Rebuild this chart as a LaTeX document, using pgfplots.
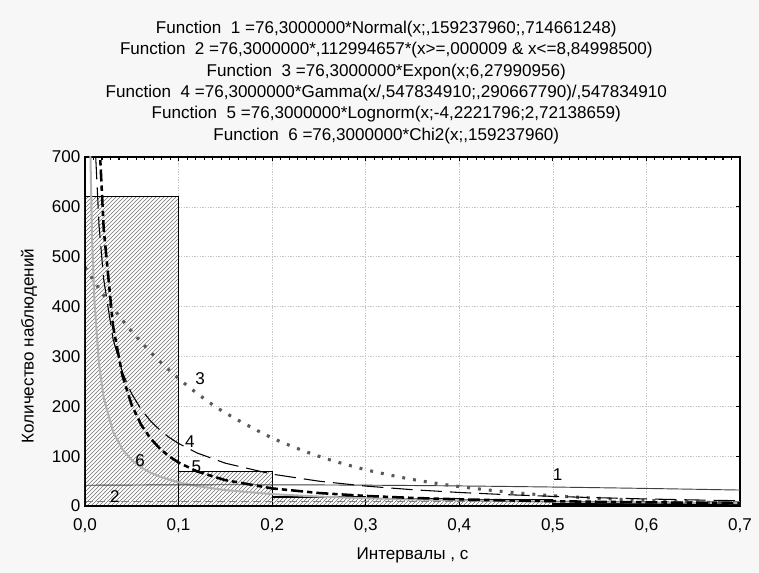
\documentclass[border=0pt]{standalone}
\usepackage{fontspec}
\setmainfont{Liberation Sans}
\usepackage{pgfplots}
\pgfplotsset{compat=1.18}
\usetikzlibrary{patterns,backgrounds}

\begin{document}
\begin{tikzpicture}[font=\fontsize{12.8}{16}\selectfont]
\begin{axis}[
    scale only axis,
    width=491.25pt,
    height=261.75pt,
    xmin=0, xmax=0.7,
    ymin=0, ymax=700,
    xtick={0,0.1,0.2,0.3,0.4,0.5,0.6,0.7},
    ytick={0,100,200,300,400,500,600,700},
    minor x tick num=10,
    xtick pos=right, xticklabel pos=left,
    ytick pos=right, yticklabel pos=left,
    major tick length=3pt,
    minor tick length=2.5pt,
    every tick/.style={black, line width=0.8pt},
    axis line style={line width=1pt},
    /pgf/number format/assume math mode=true,
    xticklabel style={yshift=-6pt, /pgf/number format/.cd, fixed, fixed zerofill, precision=1, use comma},
    yticklabel style={/pgf/number format/.cd, fixed, precision=0},
    tick label style={font=\fontsize{12.8}{14}\selectfont},
    grid=major,
    major grid style={gray!45, line width=0.5pt, dash pattern=on 1pt off 1pt},
    axis background/.style={fill=white},
    xlabel={Интервалы , с},
    ylabel={Количество наблюдений},
    xlabel style={at={(axis description cs:0.5,-0.1404)}, anchor=center},
    ylabel style={at={(axis description cs:-0.0855,0.458)}, anchor=center},
    title={Function~~1 =76,3000000*Normal(x;,159237960;,714661248)\\
           Function~~2 =76,3000000*,112994657*(x>=,000009 \& x<=8,84998500)\\
           Function~~3 =76,3000000*Expon(x;6,27990956)\\
           Function~~4 =76,3000000*Gamma(x/,547834910;,290667790)/,547834910\\
           Function~~5 =76,3000000*Lognorm(x;-4,2221796;2,72138659)\\
           Function~~6 =76,3000000*Chi2(x;,159237960)},
    title style={at={(axis description cs:0.46,1.0145)}, anchor=south, inner sep=0pt,
                 align=center, font=\fontsize{12.8}{16}\selectfont},
]
% histogram
\addplot[ybar, bar width=0.1, bar shift=0pt, draw=black, line width=0.8pt,
         fill=white, postaction={pattern=north east lines, pattern color=black!55}]
    coordinates {(0.05,620) (0.15,70) (0.25,18) (0.35,15) (0.45,13) (0.55,4) (0.65,4)};

% 6 Chi2
\addplot[gray!60, line width=1.5pt] coordinates {
    (0.001,3453) (0.002,1823.6) (0.003,1255.2) (0.005,783.6) (0.0075,538.8)
    (0.01,413.0) (0.015,283.7) (0.02,217.1) (0.03,148.8) (0.04,113.6)
    (0.05,92.0) (0.06,77.4) (0.07,66.9) (0.08,58.8) (0.1,47.4) (0.12,39.7)
    (0.15,31.9) (0.2,23.8) (0.25,18.9) (0.3,15.6) (0.35,13.2) (0.4,11.4)
    (0.45,10.0) (0.5,8.83) (0.6,7.10) (0.7,5.86)};

% 2 Uniform
\addplot[gray, line width=1.2pt, dash pattern=on 6pt off 3pt] coordinates {(0,8.62) (0.7,8.62)};

% 1 Normal
\addplot[black!75, line width=0.7pt, smooth] coordinates {
    (0,41.55) (0.1,42.44) (0.2,42.52) (0.3,41.77) (0.4,40.24)
    (0.5,38.02) (0.6,35.22) (0.7,31.99)};

% 3 Expon
\addplot[black!65, line width=2.3pt, dash pattern=on 2.2pt off 6pt, smooth] coordinates {
    (0,479.2) (0.01,450.0) (0.02,422.6) (0.03,396.9) (0.05,350.0) (0.075,299.2)
    (0.1,255.7) (0.125,218.6) (0.15,186.8) (0.2,136.5) (0.25,99.7) (0.3,72.8)
    (0.35,53.2) (0.4,38.9) (0.45,28.4) (0.5,20.7) (0.55,15.2) (0.6,11.1)
    (0.65,8.1) (0.7,5.9)};

% 4 Gamma
\addplot[black, line width=0.8pt, dash pattern=on 16pt off 6pt] coordinates {
    (0.0025,2050.8) (0.005,1248.7) (0.0075,932.2) (0.01,756.7) (0.015,562.4)
    (0.02,454.4) (0.03,334.7) (0.04,268.0) (0.05,224.6) (0.06,193.8)
    (0.07,170.6) (0.08,152.4) (0.09,137.6) (0.1,125.4) (0.12,106.2)
    (0.15,85.85) (0.2,63.90) (0.25,49.78) (0.3,39.93) (0.35,32.67)
    (0.4,27.13) (0.45,22.77) (0.5,19.29) (0.55,16.46) (0.6,14.12)
    (0.65,12.18) (0.7,10.55)};

% 5 Lognorm
\addplot[black, line width=1.9pt, dash pattern=on 9pt off 3pt on 4pt off 3pt] coordinates {
    (0.0025,3621.8) (0.005,2068.8) (0.0075,1446.8) (0.01,1107.5) (0.015,745.7)
    (0.02,555.6) (0.03,360.2) (0.04,261.3) (0.05,202.1) (0.06,163.0)
    (0.07,135.5) (0.08,115.1) (0.09,99.5) (0.1,87.2) (0.12,69.2)
    (0.15,51.8) (0.2,35.3) (0.25,26.0) (0.3,20.2) (0.35,16.2) (0.4,13.4)
    (0.45,11.3) (0.5,9.65) (0.55,8.38) (0.6,7.36) (0.65,6.52) (0.7,5.83)};

% curve labels
\node at (axis cs:0.505,62) {1};
\node at (axis cs:0.032,19) {2};
\node at (axis cs:0.123,256) {3};
\node at (axis cs:0.112,129) {4};
\node at (axis cs:0.119,79) {5};
\node at (axis cs:0.059,92) {6};

% heavier bottom and left frame lines
\draw[line width=2.2pt] (rel axis cs:0,0) -- (rel axis cs:1,0);
\draw[line width=1.5pt] (rel axis cs:0,0) -- (rel axis cs:0,1);
\end{axis}
\begin{pgfonlayer}{background}
\fill[black!3] ([shift={(-63.75pt,-50.25pt)}]current axis.south west)
    rectangle ([shift={(14.25pt,117.75pt)}]current axis.north east);
\end{pgfonlayer}
\end{tikzpicture}
\end{document}
